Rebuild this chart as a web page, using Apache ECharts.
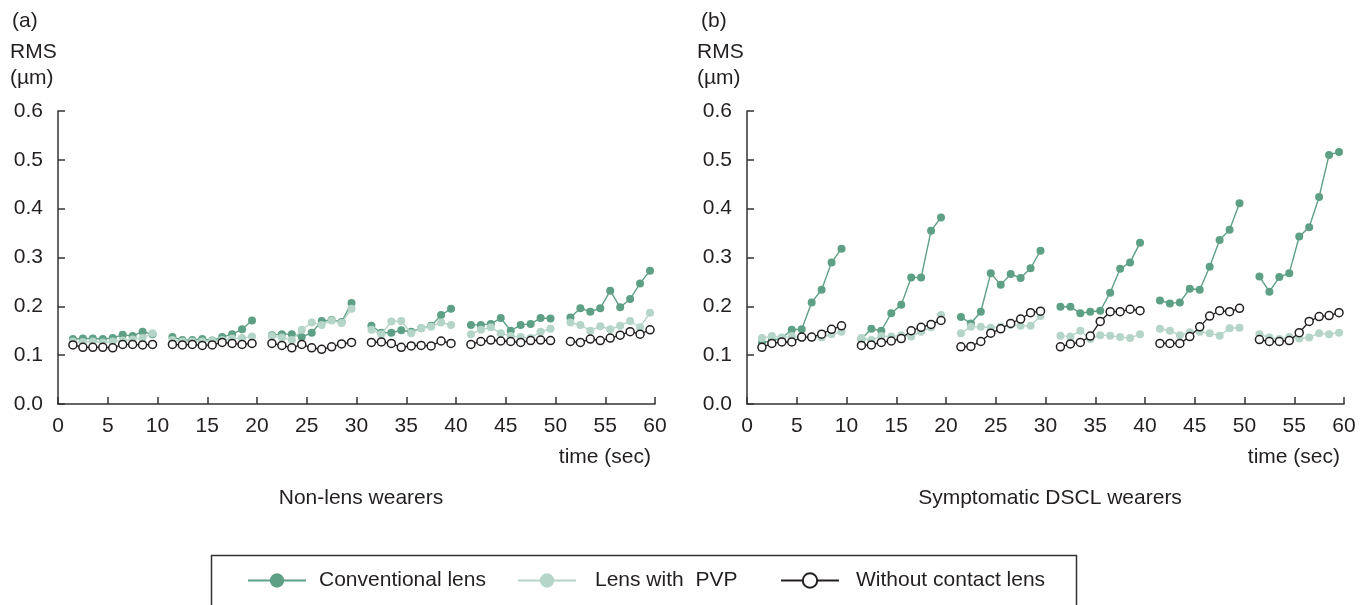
<!DOCTYPE html>
<html>
<head>
<meta charset="utf-8">
<script src="https://cdn.jsdelivr.net/npm/echarts@6/dist/echarts.min.js"></script>
<style>
html,body{margin:0;padding:0;background:#fff;}
#chart{width:1369px;height:605px;}
</style>
</head>
<body>
<div id="chart"></div>
<script>
// time points (sec) – 6 recording blocks of 9 samples
const timeSec = [1.5,2.5,3.5,4.5,5.5,6.5,7.5,8.5,9.5,
  11.5,12.5,13.5,14.5,15.5,16.5,17.5,18.5,19.5,
  21.5,22.5,23.5,24.5,25.5,26.5,27.5,28.5,29.5,
  31.5,32.5,33.5,34.5,35.5,36.5,37.5,38.5,39.5,
  41.5,42.5,43.5,44.5,45.5,46.5,47.5,48.5,49.5,
  51.5,52.5,53.5,54.5,55.5,56.5,57.5,58.5,59.5];

const seriesNames = ['Conventional lens', 'Lens with  PVP', 'Without contact lens'];
const panelTitles = ['Non-lens wearers', 'Symptomatic DSCL wearers'];
const yTicks = [0, 0.1, 0.2, 0.3, 0.4, 0.5, 0.6];
const xTicks = [0, 5, 10, 15, 20, 25, 30, 35, 40, 45, 50, 55, 60];

// (a) Non-lens wearers
const conventionalA = [0.133,0.134,0.134,0.133,0.135,0.142,0.139,0.148,0.143,
  0.137,0.131,0.131,0.133,0.130,0.137,0.143,0.153,0.171,
  0.141,0.143,0.143,0.137,0.146,0.170,0.172,0.168,0.207,
  0.160,0.146,0.146,0.151,0.148,0.155,0.160,0.182,0.195,
  0.162,0.162,0.164,0.176,0.150,0.162,0.164,0.176,0.175,
  0.177,0.196,0.189,0.196,0.232,0.198,0.215,0.247,0.273];
const pvpA = [0.128,0.127,0.128,0.126,0.128,0.130,0.132,0.135,0.145,
  0.131,0.128,0.128,0.128,0.129,0.131,0.134,0.135,0.138,
  0.139,0.136,0.131,0.152,0.167,0.162,0.171,0.166,0.195,
  0.152,0.143,0.169,0.170,0.145,0.155,0.158,0.167,0.162,
  0.143,0.152,0.157,0.145,0.139,0.137,0.135,0.148,0.154,
  0.167,0.162,0.150,0.159,0.153,0.160,0.170,0.157,0.187];
const noneA = [0.121,0.116,0.116,0.116,0.115,0.122,0.122,0.121,0.122,
  0.122,0.121,0.122,0.120,0.121,0.126,0.124,0.122,0.124,
  0.124,0.120,0.115,0.122,0.115,0.112,0.117,0.123,0.126,
  0.126,0.127,0.124,0.116,0.119,0.120,0.119,0.129,0.124,
  0.122,0.128,0.131,0.129,0.128,0.126,0.130,0.131,0.130,
  0.128,0.126,0.133,0.130,0.135,0.141,0.148,0.143,0.152];

// (b) Symptomatic DSCL wearers
const conventionalB = [0.125,0.130,0.135,0.152,0.153,0.208,0.234,0.290,0.318,
  0.133,0.154,0.150,0.186,0.203,0.259,0.259,0.355,0.382,
  0.178,0.165,0.189,0.268,0.244,0.266,0.258,0.278,0.314,
  0.199,0.199,0.186,0.189,0.191,0.228,0.277,0.290,0.330,
  0.212,0.206,0.208,0.236,0.234,0.281,0.336,0.357,0.411,
  0.261,0.230,0.260,0.268,0.343,0.362,0.424,0.510,0.516];
const pvpB = [0.135,0.139,0.136,0.139,0.135,0.137,0.136,0.143,0.148,
  0.135,0.131,0.139,0.138,0.141,0.138,0.148,0.157,0.182,
  0.145,0.158,0.158,0.156,0.158,0.162,0.160,0.160,0.180,
  0.140,0.138,0.150,0.133,0.141,0.140,0.137,0.135,0.143,
  0.154,0.150,0.141,0.147,0.148,0.145,0.140,0.155,0.156,
  0.143,0.136,0.133,0.137,0.134,0.136,0.145,0.143,0.146];
const noneB = [0.116,0.124,0.127,0.127,0.137,0.137,0.143,0.153,0.160,
  0.120,0.121,0.126,0.129,0.134,0.150,0.157,0.163,0.171,
  0.117,0.118,0.128,0.145,0.154,0.165,0.174,0.187,0.190,
  0.117,0.123,0.126,0.139,0.169,0.189,0.189,0.194,0.191,
  0.124,0.124,0.124,0.138,0.158,0.180,0.191,0.189,0.196,
  0.132,0.128,0.128,0.130,0.146,0.169,0.179,0.181,0.187];

const FONT = '"Liberation Sans", Arial, Helvetica, sans-serif';
const TXT = '#231f20';
const DARK = '#5ea085';
const LIGHT = '#b4d5c7';
const BLACK = '#231f20';

// build [t, v] pairs with a break after each 9-sample block
function blocks(vals) {
  const out = [];
  for (let i = 0; i < vals.length; i++) {
    out.push([timeSec[i], vals[i]]);
    if ((i + 1) % 9 === 0 && i < vals.length - 1) out.push([timeSec[i] + 1, '-']);
  }
  return out;
}

function mkSeries(name, vals, idx, kind) {
  const base = {
    name: name, type: 'line', xAxisIndex: idx, yAxisIndex: idx,
    data: blocks(vals), connectNulls: false, animation: false,
    symbol: 'circle'
  };
  if (kind === 0) {
    Object.assign(base, {symbolSize: 8, lineStyle: {color: DARK, width: 1.4},
      itemStyle: {color: DARK}, z: 2});
  } else if (kind === 1) {
    Object.assign(base, {symbolSize: 8, lineStyle: {color: LIGHT, width: 1.4},
      itemStyle: {color: LIGHT}, z: 3});
  } else {
    Object.assign(base, {symbolSize: 8, lineStyle: {color: BLACK, width: 1.3},
      itemStyle: {color: '#ffffff', borderColor: BLACK, borderWidth: 1.5}, z: 4});
  }
  return base;
}

function mkX(idx) {
  return {
    type: 'value', gridIndex: idx, min: 0, max: 60, interval: 5,
    axisLine: {show: true, lineStyle: {color: '#333', width: 1.5}},
    axisTick: {show: true, inside: true, length: 7, lineStyle: {color: '#333', width: 1.5}},
    axisLabel: {color: TXT, fontSize: 21, fontFamily: FONT, margin: 12},
    splitLine: {show: false}
  };
}
function mkY(idx) {
  return {
    type: 'value', gridIndex: idx, min: 0, max: 0.6, interval: 0.1,
    axisLine: {show: true, lineStyle: {color: '#333', width: 1.5}},
    axisTick: {show: true, inside: true, length: 7, lineStyle: {color: '#333', width: 1.5}},
    axisLabel: {color: TXT, fontSize: 21, fontFamily: FONT, margin: 15,
      formatter: v => v.toFixed(1)},
    splitLine: {show: false}
  };
}

function txt(x, y, s, align) {
  return {type: 'text', x: x, y: y,
    style: {text: s, fill: TXT, font: '21px ' + FONT, textAlign: align || 'left', textVerticalAlign: 'middle'}};
}

function mkLegend(name, left, gap) {
  return {
    data: [name], left: left, top: 565, itemWidth: 58, itemHeight: 18,
    itemGap: 0,
    textStyle: {color: TXT, fontSize: 21, fontFamily: FONT, padding: [0, 0, 0, gap]}
  };
}

const chart = echarts.init(document.getElementById('chart'), null, {renderer: 'canvas'});
chart.setOption({
  backgroundColor: '#ffffff',
  animation: false,
  grid: [
    {left: 58, right: 1369 - 655, top: 111, bottom: 605 - 404},
    {left: 747, right: 1369 - 1344, top: 111, bottom: 605 - 404}
  ],
  xAxis: [mkX(0), mkX(1)],
  yAxis: [mkY(0), mkY(1)],
  legend: [
    mkLegend(seriesNames[0], 242, 8),
    mkLegend(seriesNames[1], 512, 14),
    mkLegend(seriesNames[2], 775, 12)
  ],
  series: [
    mkSeries(seriesNames[0], conventionalA, 0, 0),
    mkSeries(seriesNames[1], pvpA, 0, 1),
    mkSeries(seriesNames[2], noneA, 0, 2),
    mkSeries(seriesNames[0], conventionalB, 1, 0),
    mkSeries(seriesNames[1], pvpB, 1, 1),
    mkSeries(seriesNames[2], noneB, 1, 2)
  ],
  graphic: [
    txt(12, 21, '(a)'), txt(10, 52, 'RMS'), txt(10, 78, '(\u00b5m)'),
    txt(701, 21, '(b)'), txt(697, 52, 'RMS'), txt(697, 78, '(\u00b5m)'),
    txt(651, 457, 'time (sec)', 'right'), txt(1340, 457, 'time (sec)', 'right'),
    txt(361, 498, panelTitles[0], 'center'), txt(1050, 498, panelTitles[1], 'center'),
    {type: 'rect', x: 211.5, y: 555.5, shape: {width: 865, height: 70},
      style: {fill: 'none', stroke: '#333', lineWidth: 1.5}, z: -1}
  ]
});
</script>
</body>
</html>
